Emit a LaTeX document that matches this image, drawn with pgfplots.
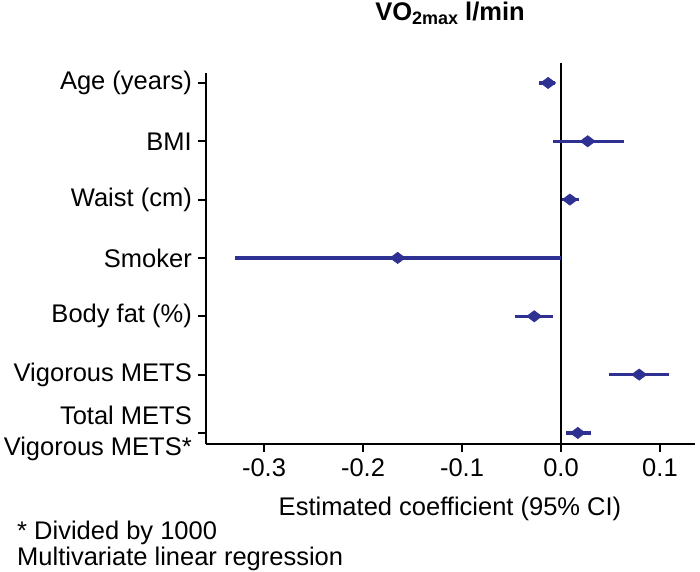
\documentclass[border=0pt]{standalone}
\usepackage{pgfplots}
\pgfplotsset{compat=1.18}
\usepackage{pgfplotstable}
\usepackage{fontspec}
\setmainfont{Liberation Sans}
\definecolor{ciblue}{RGB}{46,49,146}
\newcommand{\bigf}{\fontsize{25.5}{31}\selectfont}
\pgfplotstableread{
row est lo hi
7 -0.013 -0.022 -0.006
6 0.027 -0.008 0.064
5 0.009 0.001 0.018
4 -0.165 -0.329 0.000
3 -0.027 -0.046 -0.008
2 0.079 0.049 0.109
1 0.017 0.005 0.030
}\coefs
\begin{document}
\begin{tikzpicture}
\useasboundingbox (-206pt,-127pt) rectangle (494pt,444pt);
\begin{axis}[
  at={(0pt,0pt)}, anchor=south west,
  scale only axis,
  width=489pt, height=371pt,
  xmin=-0.3586, xmax=0.1354,
  ymin=0.81, ymax=7.17,
  axis x line*=bottom, axis y line*=left,
  axis line style={line width=2.4pt, -},
  xtick={-0.3,-0.2,-0.1,0,0.1},
  xticklabels={-0.3,-0.2,-0.1,0.0,0.1},
  ytick={1,2,3,4,5,6,7},
  yticklabels={{Total METS\\Vigorous METS*},Vigorous METS,Body fat (\%),Smoker,Waist (cm),BMI,Age (years)},
  tick align=outside,
  major tick length=8pt,
  every tick/.style={black, line width=2pt},
  tick label style={font=\bigf},
  yticklabel style={align=right, inner sep=0pt, xshift=-6pt},
  xticklabel style={inner sep=0pt, yshift=-6pt},
  /pgf/number format/assume math mode=true,
  clip=false,
]
\draw[black, line width=2.4pt] (axis cs:0,0.81) -- (axis cs:0,7.34);
\addplot[ciblue, line width=3.2pt, only marks, mark=diamond*, mark size=7.5pt,
  mark options={rotate=90, fill=ciblue, draw=ciblue, line width=0.6pt},
  error bars/.cd, x dir=both, x explicit, error mark=none,
  error bar style={line width=3.2pt, ciblue}]
  table[x=est, y=row,
        x error plus expr=\thisrow{hi}-\thisrow{est},
        x error minus expr=\thisrow{est}-\thisrow{lo}] {\coefs};
\end{axis}
\node[anchor=base, font=\bigf] at (244pt,423pt) {\textbf{VO\raisebox{-4pt}{\fontsize{18}{18}\selectfont\bfseries 2max} l/min}};
\node[anchor=base, font=\bigf, inner sep=0pt] at (244pt,-71pt) {Estimated coefficient (95\% CI)};
\node[anchor=base west, font=\bigf, inner sep=0pt] at (-189pt,-95pt) {* Divided by 1000};
\node[anchor=base west, font=\bigf, inner sep=0pt] at (-189pt,-121pt) {Multivariate linear regression};
\end{tikzpicture}
\end{document}
